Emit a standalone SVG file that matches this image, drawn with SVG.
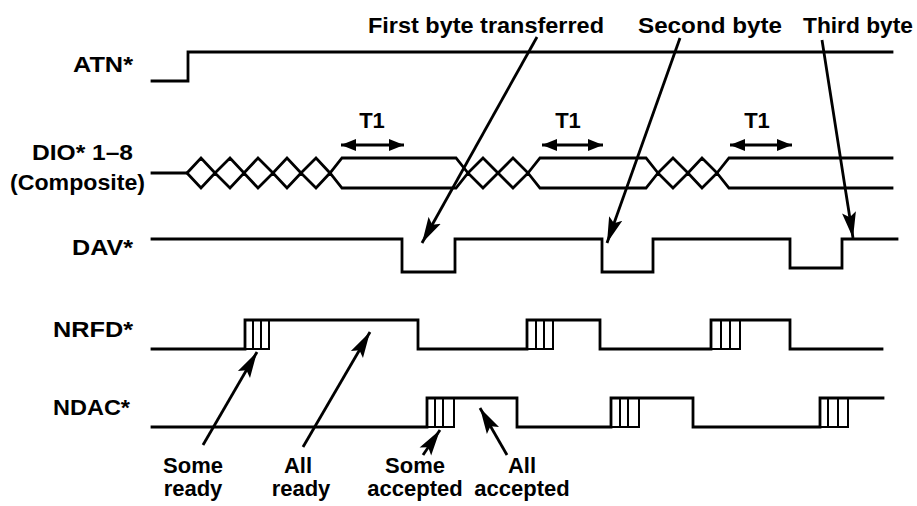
<svg xmlns="http://www.w3.org/2000/svg" width="917" height="506" viewBox="0 0 917 506">
<style>
.t{font-family:"Liberation Sans",Arial,sans-serif;font-weight:bold;font-size:22px;fill:#000}
.c{text-anchor:middle}
.w{fill:none;stroke:#000;stroke-width:2.8;stroke-linejoin:miter;stroke-linecap:square}
.h{fill:none;stroke:#000;stroke-width:2}
.a{fill:none;stroke:#000;stroke-width:2.8}
</style>
<defs>
<marker id="head" markerUnits="userSpaceOnUse" markerWidth="28" markerHeight="16" refX="26" refY="8" orient="auto">
<path d="M0,1 L26,8 L0,15 L5,8 Z" fill="#000"/>
</marker>
<marker id="small" markerUnits="userSpaceOnUse" markerWidth="16" markerHeight="12" refX="15" refY="6" orient="auto-start-reverse">
<path d="M0,0 L15,6 L0,12 Z" fill="#000"/>
</marker>
</defs>
<rect width="917" height="506" fill="#fff"/>

<g id="atn">
<text class="t" x="73" y="72" textLength="60" lengthAdjust="spacingAndGlyphs">ATN*</text>
<path class="w" d="M152,81 H188 V52 H892"/>
</g>

<g id="dio">
<text class="t" x="32" y="160" textLength="101" lengthAdjust="spacingAndGlyphs">DIO* 1–8</text>
<text class="t" x="10" y="190" textLength="135" lengthAdjust="spacingAndGlyphs">(Composite)</text>
<path class="w" d="M152,173 H187 L201,158 L215,173 L230,158 L244,173 L258,158 L273,173 L287,158 L301,173 L316,158 L330,173 L342,158 H456 L468,173 L483,158 L498,173 L513,158 L528,173 L540,158 H646 L658,173 L673,158 L688,173 L702,158 L717,173 L729,158 H892"/>
<path class="w" d="M187,173 L201,188 L215,173 L230,188 L244,173 L258,188 L273,173 L287,188 L301,173 L316,188 L330,173 L342,188 H456 L468,173 L483,188 L498,173 L513,188 L528,173 L540,188 H646 L658,173 L673,188 L688,173 L702,188 L717,173 L729,188 H892"/>
</g>

<g id="dav">
<text class="t" x="72" y="255" textLength="61" lengthAdjust="spacingAndGlyphs">DAV*</text>
<path class="w" d="M152,239 H402 V272 H455 V239 H602 V272 H653 V239 H790 V268 H842 V239 H897"/>
</g>

<g id="nrfd">
<text class="t" x="53" y="337" textLength="80" lengthAdjust="spacingAndGlyphs">NRFD*</text>
<path class="w" d="M152,349 H245 V320 H418 V349 H527 V320 H600 V349 H711 V320 H790 V349 H882"/>
<path class="h" d="M245,349 H269 V320 M253,320 V349 M261,320 V349 M527,349 H553 V320 M536,320 V349 M544,320 V349 M711,349 H740 V320 M721,320 V349 M730,320 V349"/>
</g>

<g id="ndac">
<text class="t" x="53" y="415" textLength="77" lengthAdjust="spacingAndGlyphs">NDAC*</text>
<path class="w" d="M152,427 H427 V398 H517 V427 H611 V398 H693 V427 H820 V398 H883"/>
<path class="h" d="M427,427 H454 V398 M435,398 V427 M443,398 V427 M611,427 H639 V398 M620,398 V427 M628,398 V427 M820,427 H848 V398 M828,398 V427 M838,398 V427"/>
</g>

<g id="t1">
<text class="t c" x="372" y="128">T1</text>
<text class="t c" x="568" y="128">T1</text>
<text class="t c" x="757" y="128">T1</text>
</g>

<g id="top-labels">
<text class="t" x="368" y="33" textLength="236" lengthAdjust="spacingAndGlyphs">First byte transferred</text>
<text class="t" x="638" y="33" textLength="144" lengthAdjust="spacingAndGlyphs">Second byte</text>
<text class="t" x="803" y="33" textLength="110" lengthAdjust="spacingAndGlyphs">Third byte</text>
</g>

<g id="bottom-labels">
<text class="t c" x="193" y="473">Some</text>
<text class="t c" x="193" y="496">ready</text>
<text class="t c" x="298" y="473">All</text>
<text class="t c" x="301" y="496">ready</text>
<text class="t c" x="415" y="473">Some</text>
<text class="t c" x="415" y="496">accepted</text>
<text class="t c" x="522" y="473">All</text>
<text class="t c" x="522" y="496">accepted</text>
</g>

<g id="connectors">
<line class="a" x1="341" y1="145" x2="404" y2="145" marker-start="url(#small)" marker-end="url(#small)"/>
<line class="a" x1="542" y1="145" x2="603" y2="145" marker-start="url(#small)" marker-end="url(#small)"/>
<line class="a" x1="730" y1="145" x2="792" y2="145" marker-start="url(#small)" marker-end="url(#small)"/>
<line class="a" x1="537" y1="37" x2="422" y2="243" marker-end="url(#head)"/>
<line class="a" x1="680" y1="38" x2="607" y2="243" marker-end="url(#head)"/>
<line class="a" x1="822" y1="40" x2="853" y2="238" marker-end="url(#head)"/>
<line class="a" x1="203" y1="445" x2="257" y2="352" marker-end="url(#head)"/>
<line class="a" x1="303" y1="447" x2="370" y2="332" marker-end="url(#head)"/>
<line class="a" x1="423" y1="455" x2="440" y2="430" marker-end="url(#head)"/>
<line class="a" x1="507" y1="455" x2="480" y2="408" marker-end="url(#head)"/>
</g>
</svg>
